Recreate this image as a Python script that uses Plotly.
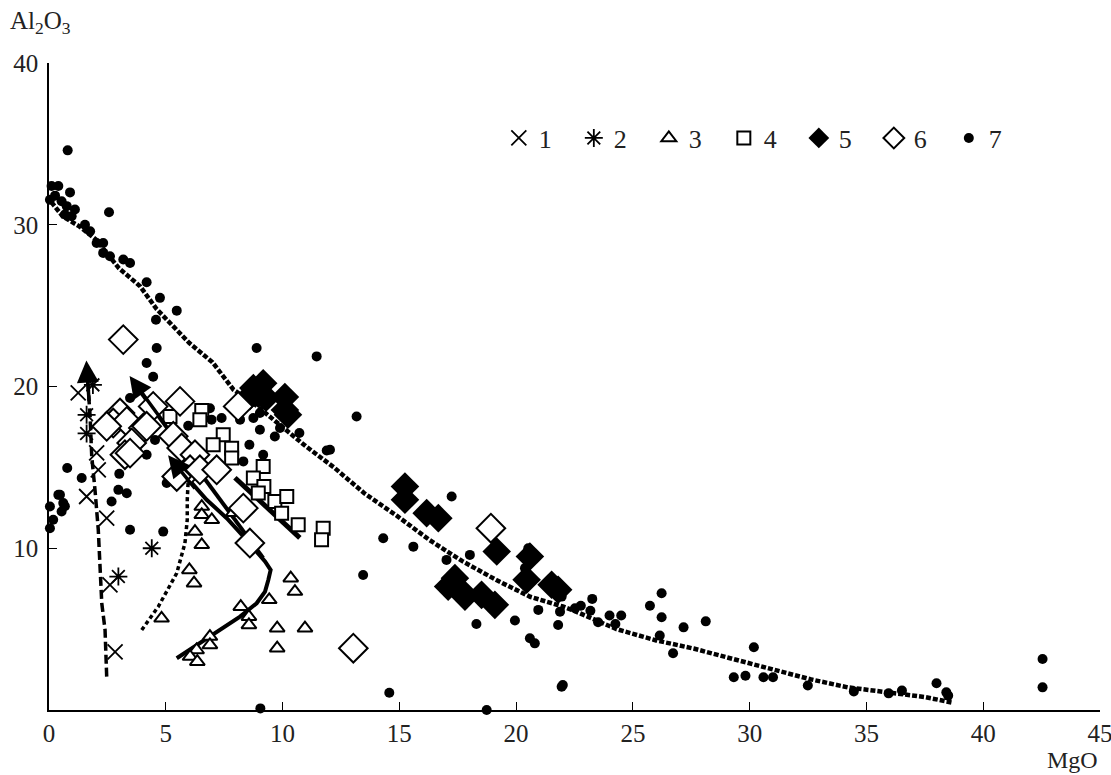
import plotly.graph_objects as go

# ---------------- data (MgO, Al2O3) ----------------
s1_x = [1.25, 2.04, 2.11, 1.61, 2.47, 2.61, 2.83]
s1_y = [19.6, 15.9, 14.85, 13.2, 11.86, 7.74, 3.6]

s2_x = [1.88, 1.61, 1.61, 4.40, 2.97]
s2_y = [20.1, 18.25, 17.1, 10.0, 8.25]

s3_x = [6.54, 6.54, 6.97, 6.25, 6.54, 6.01, 6.21, 4.82, 8.21, 8.56, 8.56, 9.43, 10.35, 10.53,
        9.77, 9.77, 10.96, 6.89, 6.89, 6.32, 6.04, 6.35, 7.89]
s3_y = [12.58, 12.07, 11.76, 11.03, 10.21, 8.66, 7.84, 5.67, 6.39, 5.77, 5.26, 6.81, 8.15, 7.32,
        5.06, 3.82, 5.06, 4.54, 4.02, 3.71, 3.30, 2.99, 12.2]

s4_x = [5.18, 6.54, 6.46, 7.46, 7.03, 7.82, 7.82, 9.17, 8.75, 9.20, 8.96, 9.67, 10.18, 9.96,
        10.67, 11.74, 11.67]
s4_y = [18.15, 18.52, 17.95, 17.02, 16.40, 16.19, 15.58, 15.06, 14.34, 13.82, 13.41, 12.89,
        13.20, 12.17, 11.45, 11.24, 10.52]

s5_x = [8.75, 9.17, 8.96, 9.29, 8.6, 10.1, 10.1, 10.23, 15.24, 15.24, 16.17, 16.67, 19.17,
        20.59, 20.45, 17.38, 17.59, 17.81, 17.09, 18.52, 19.09, 21.52, 21.8]
s5_y = [19.9, 20.2, 19.55, 19.3, 19.4, 19.35, 18.55, 18.25, 13.82, 13.0, 12.17, 11.86, 9.80,
        9.49, 8.05, 8.15, 7.43, 7.01, 7.63, 7.12, 6.50, 7.74, 7.43]

s6_x = [3.18, 5.61, 8.10, 3.04, 2.75, 3.33, 4.46, 4.04, 3.54, 3.25, 5.32, 5.68, 6.25, 6.04,
        6.46, 7.18, 5.47, 8.32, 8.60, 13.03, 18.92, 2.47, 4.18, 3.47]
s6_y = [22.9, 19.08, 18.77, 18.36, 17.74, 17.84, 18.77, 17.44, 16.51, 15.78, 16.92, 16.2, 15.78,
        14.85, 14.85, 14.85, 14.44, 12.48, 10.32, 3.82, 11.24, 17.54, 17.54, 15.88]

s7_x = [0.80, 0.11, 0.40, 0.90, 0.04, 0.26, 0.54, 0.76, 1.11, 0.68, 0.97, 2.57, 1.54, 1.76,
        2.04, 2.32, 2.32, 2.61, 3.18, 3.47, 4.18, 4.75, 5.47, 4.58, 4.61, 4.18, 4.46, 3.47,
        0.78, 1.40, 0.47, 0.61, 0.04, 0.54, 0.18, 0.04, 0.40, 0.68,
        3.01, 2.97, 3.33, 2.68, 3.47, 4.89, 4.18, 4.54, 5.04, 5.96,
        8.89, 11.46, 6.89, 7.39, 8.18, 8.75, 9.03, 9.03, 9.67, 10.72, 8.58, 9.17, 8.32, 11.89,
        6.96, 9.89,
        13.17, 12.03, 17.24, 14.31, 15.6, 13.45, 18.02, 17.02, 18.3, 19.95, 20.59, 20.8, 20.52,
        20.38, 21.95, 21.88, 20.95, 22.52, 21.8, 22.0, 21.95, 14.57, 18.74, 9.05,
        20.46, 22.03, 22.77, 23.26, 23.18, 23.51, 24.0, 24.5, 24.25, 25.73, 26.23, 26.23, 26.15,
        27.17, 28.12, 26.72, 30.18, 29.32, 29.82, 30.59, 31.0, 32.49, 34.46, 35.95, 36.52, 38.0,
        38.42, 38.5, 42.54, 42.54]
s7_y = [34.6, 32.4, 32.4, 32.0, 31.55, 31.8, 31.45, 31.15, 30.94, 30.63, 30.53, 30.77, 30.0, 29.6,
        28.87, 28.87, 28.26, 28.05, 27.85, 27.64, 26.45, 25.48, 24.69, 24.13, 22.38, 21.45, 20.6, 19.29,
        14.96, 14.34, 13.3, 12.79, 12.58, 12.27, 11.76, 11.24, 13.3, 12.6,
        14.6, 13.61, 13.4, 12.89, 11.14, 11.03, 15.78, 16.7, 14.03, 17.57,
        22.38, 21.86, 18.66, 18.05, 17.95, 18.05, 18.36, 17.33, 16.91, 17.12, 16.40, 15.78, 15.37, 16.04,
        17.95, 17.43,
        18.15, 16.09, 13.2, 10.62, 10.1, 8.35, 9.59, 9.28, 5.32, 5.53, 4.44, 4.12, 10.0,
        8.77, 7.01, 6.08, 6.19, 6.29, 5.26, 1.55, 1.44, 1.07, 0.0, 0.1,
        8.31, 7.38, 6.45, 6.87, 6.14, 5.42, 5.84, 5.84, 5.32, 6.45, 7.22, 5.73, 4.60,
        5.11, 5.48, 3.51, 3.88, 2.02, 2.12, 2.02, 2.02, 1.51, 1.15, 1.03, 1.20, 1.65,
        1.09, 0.89, 3.15, 1.40]

# trend lines
main_x = [0.1, 0.6, 1.3, 2.0, 3.0, 3.9, 4.6, 5.2, 6.0, 7.0, 7.9, 8.9, 9.8, 11.0, 12.2, 13.5, 14.9,
          16.3, 17.7, 19.2, 20.6, 22.0, 22.7, 24.3, 26.0, 27.6, 29.3, 30.9, 32.6, 34.2, 35.9,
          36.7, 37.5, 38.7]
main_y = [31.4, 30.5, 29.9, 29.1, 27.3, 26.2, 24.8, 23.9, 22.7, 21.5, 19.8, 18.8, 17.7, 16.3, 15.0,
          13.4, 12.0, 10.5, 9.2, 8.0, 7.0, 6.4, 6.0, 5.0, 4.3, 3.8, 3.15, 2.55, 1.9, 1.4, 1.1,
          1.0, 0.8, 0.45]

dash_x = [2.47, 2.40, 2.26, 2.18, 2.11, 1.97, 1.83, 1.76, 1.65]
dash_y = [2.06, 4.95, 6.6, 9.1, 11.14, 13.6, 15.67, 18.15, 20.5]

curve_x = [5.47, 6.46, 7.32, 8.18, 8.89, 9.25, 9.39, 9.49, 9.25, 8.46, 7.61, 6.75, 5.4]
curve_y = [3.20, 4.12, 4.95, 5.77, 6.60, 7.32, 8.04, 8.66, 9.18, 10.52, 11.86, 13.0, 15.2]

lineb_x = [9.17, 3.75]
lineb_y = [9.4, 20.0]

lined_x = [7.96, 10.74]
lined_y = [14.36, 10.64]

dotl_x = [3.97, 4.68, 5.47, 5.82, 5.92, 5.92, 5.96]
dotl_y = [4.95, 6.39, 8.46, 10.31, 11.76, 13.0, 14.2]

# arrow (tail, head) pairs in data units
arrow_tails = [(1.72, 19.0), (6.3, 13.6), (5.0, 17.6)]
arrow_heads = [(1.6, 21.6), (5.1, 15.75), (3.45, 20.65)]

# ---------------- figure ----------------
FONT = "Liberation Serif"
TXT = "#222"
fig = go.Figure()

fig.add_trace(go.Scatter(x=main_x, y=main_y, mode="lines", showlegend=False,
                         line=dict(color="black", width=4.5, dash="5px,2px")))
fig.add_trace(go.Scatter(x=dash_x, y=dash_y, mode="lines", showlegend=False,
                         line=dict(color="black", width=3.5, dash="9px,4px")))
fig.add_trace(go.Scatter(x=dotl_x, y=dotl_y, mode="lines", showlegend=False,
                         line=dict(color="black", width=3.5, dash="4px,3px")))
fig.add_trace(go.Scatter(x=curve_x, y=curve_y, mode="lines", showlegend=False,
                         line=dict(color="black", width=4)))
fig.add_trace(go.Scatter(x=lineb_x, y=lineb_y, mode="lines", showlegend=False,
                         line=dict(color="black", width=4)))
fig.add_trace(go.Scatter(x=lined_x, y=lined_y, mode="lines", showlegend=False,
                         line=dict(color="black", width=5)))

fig.add_trace(go.Scatter(x=s7_x, y=s7_y, mode="markers", name="7", cliponaxis=False, legendrank=7,
                         marker=dict(symbol="circle", size=10, color="black")))
fig.add_trace(go.Scatter(x=s1_x, y=s1_y, mode="markers", name="1", legendrank=1,
                         marker=dict(symbol="x-thin-open", size=15, color="black",
                                     line=dict(color="black", width=1.8))))
fig.add_trace(go.Scatter(x=s2_x, y=s2_y, mode="markers", name="2", legendrank=2,
                         marker=dict(symbol="asterisk-open", size=15, color="black",
                                     line=dict(color="black", width=1.8))))
fig.add_trace(go.Scatter(x=s3_x, y=s3_y, mode="markers", name="3", legendrank=3,
                         marker=dict(symbol="triangle-up", size=13, color="white",
                                     line=dict(color="black", width=2))))
fig.add_trace(go.Scatter(x=s4_x, y=s4_y, mode="markers", name="4", legendrank=4,
                         marker=dict(symbol="square", size=13, color="white",
                                     line=dict(color="black", width=2))))
fig.add_trace(go.Scatter(x=s5_x, y=s5_y, mode="markers", name="5", legendrank=5,
                         marker=dict(symbol="diamond", size=22, color="black",
                                     line=dict(color="black", width=0))))
fig.add_trace(go.Scatter(x=s6_x, y=s6_y, mode="markers", name="6", legendrank=6,
                         marker=dict(symbol="diamond", size=22, color="white",
                                     line=dict(color="black", width=2))))

for (tx, ty), (hx, hy) in zip(arrow_tails, arrow_heads):
    fig.add_annotation(x=hx, y=hy, ax=tx, ay=ty, xref="x", yref="y", axref="x", ayref="y",
                       showarrow=True, arrowhead=2, arrowsize=1.25, arrowwidth=3.5,
                       arrowcolor="black", text="", standoff=0, startstandoff=0)

fig.add_annotation(text="Al<sub>2</sub>O<sub>3</sub>", xref="paper", yref="paper",
                   x=-0.039, y=1.035, xanchor="left", yanchor="bottom", showarrow=False,
                   font=dict(family=FONT, size=25, color=TXT))
fig.add_annotation(text="MgO", xref="paper", yref="paper",
                   x=1.0, y=-0.054, xanchor="right", yanchor="top", showarrow=False,
                   font=dict(family=FONT, size=24, color=TXT))

fig.update_layout(
    width=1111, height=775,
    margin=dict(l=49, r=11, t=63, b=65, autoexpand=False),
    plot_bgcolor="white", paper_bgcolor="white",
    font=dict(family=FONT, size=26, color=TXT),
    legend=dict(orientation="h", x=0.428, y=0.884, xanchor="left", yanchor="middle",
                entrywidth=30, entrywidthmode="pixels", itemsizing="trace",
                font=dict(family=FONT, size=26, color=TXT), bgcolor="rgba(0,0,0,0)"),
    xaxis=dict(range=[0, 45], tickvals=list(range(0, 46, 5)), ticks="inside", ticklen=8,
               tickwidth=1, tickcolor="black", showline=True, linecolor="black", linewidth=1.5,
               showgrid=False, zeroline=False, ticklabelstandoff=0, ticklabeloverflow="allow",
               automargin=False, tickfont=dict(family=FONT, size=25, color=TXT)),
    yaxis=dict(range=[0, 40], tickvals=[10, 20, 30, 40], ticks="inside", ticklen=8,
               tickwidth=1, tickcolor="black", showline=True, linecolor="black", linewidth=1.5,
               showgrid=False, zeroline=False, ticklabelstandoff=4, automargin=False,
               tickfont=dict(family=FONT, size=25, color=TXT)),
)

fig.write_html("out.html")
